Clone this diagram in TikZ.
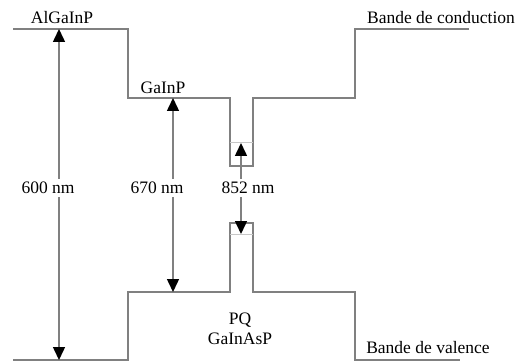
\documentclass[tikz,border=0pt]{standalone}
\usepackage{fontspec}
\setmainfont{Liberation Serif}
\usetikzlibrary{arrows.meta}
\begin{document}
\begin{tikzpicture}[x=1pt,y=-1pt,
  band/.style={draw=black!50,line width=1.5pt},
  level/.style={draw=black!22,line width=1pt},
  gap/.style={draw=black!50,line width=1.5pt,{Triangle[length=13pt,width=12pt,color=black]}-{Triangle[length=13pt,width=12pt,color=black]}},
  lab/.style={font=\fontsize{17.5}{20}\selectfont,inner sep=1pt},
  vlab/.style={lab,fill=white,inner sep=3pt}]
\useasboundingbox (0,0) rectangle (521,363);
% conduction band
\coordinate (c1) at (13,29);
\coordinate (c2) at (128,29);
\coordinate (c3) at (128,98);
\coordinate (c4) at (230,98);
\coordinate (c5) at (230,166);
\coordinate (c6) at (253,166);
\coordinate (c7) at (253,98);
\coordinate (c8) at (355,98);
\coordinate (c9) at (355,29);
\coordinate (c10) at (469,29);
\draw[band] (c1) -- (c2) -- (c3) -- (c4) -- (c5) -- (c6) -- (c7) -- (c8) -- (c9) -- (c10);
% valence band
\coordinate (v1) at (13,360);
\coordinate (v2) at (128,360);
\coordinate (v3) at (128,292);
\coordinate (v4) at (230,292);
\coordinate (v5) at (230,223);
\coordinate (v6) at (253,223);
\coordinate (v7) at (253,292);
\coordinate (v8) at (355,292);
\coordinate (v9) at (355,360);
\coordinate (v10) at (460,360);
\draw[band] (v1) -- (v2) -- (v3) -- (v4) -- (v5) -- (v6) -- (v7) -- (v8) -- (v9) -- (v10);
% quantum levels
\coordinate (ce1) at (230,143);
\coordinate (ce2) at (253,143);
\coordinate (ve1) at (230,234);
\coordinate (ve2) at (253,234);
\draw[level] (ce1) -- (ce2);
\draw[level] (ve1) -- (ve2);
% arrows
\coordinate (a1t) at (59,29);
\coordinate (a1b) at (59,360);
\coordinate (a2t) at (173,98);
\coordinate (a2b) at (173,292);
\coordinate (a3t) at (241,143);
\coordinate (a3b) at (241,234);
\draw[gap] (a1b) -- (a1t);
\draw[gap] (a2b) -- (a2t);
\draw[gap] (a3b) -- (a3t);
\node[vlab] (l600) at (48,188) {600 nm};
\node[vlab] (l670) at (157,188) {670 nm};
\node[vlab] (l852) at (248,188) {852 nm};
% labels
\node[lab] (alg) at (62,18) {AlGaInP};
\node[lab] (gip) at (163,88) {GaInP};
\node[lab] (bc) at (441,18) {Bande de conduction};
\node[lab] (pq) at (240,320) {PQ};
\node[lab] (gias) at (240,339) {GaInAsP};
\node[lab] (bv) at (428,348) {Bande de valence};
\end{tikzpicture}
\end{document}
